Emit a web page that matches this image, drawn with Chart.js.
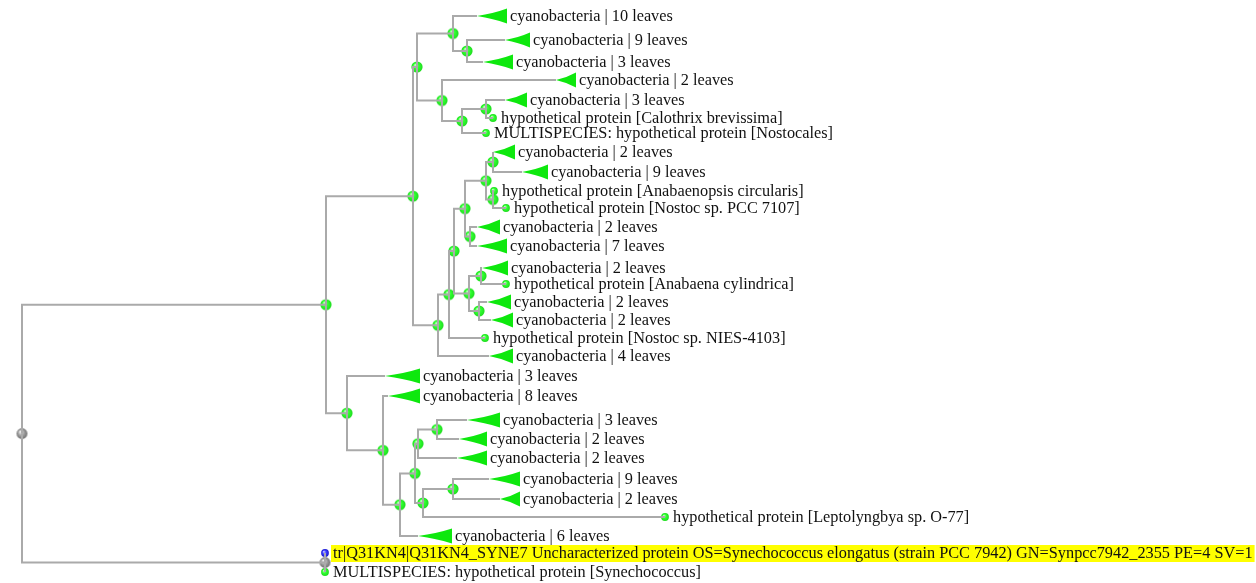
<!DOCTYPE html>
<html lang="en">
<head>
<meta charset="UTF-8">
<title>Cyanobacteria tree</title>
<script src="https://cdn.jsdelivr.net/npm/chart.js"></script>
<style>
  html, body { margin: 0; padding: 0; background: #ffffff; }
  canvas { display: block; }
</style>
</head>
<body>
<canvas id="tree" width="1256" height="583"></canvas>
<script>
// internal nodes: horizontal position and parent (-1 = root)
const nodeX      = [22, 326, 325, 413, 347, 417, 438, 453, 467, 442, 462, 486, 449, 454, 465, 486, 493, 493, 470, 469, 481, 479, 383, 400, 415, 418, 437, 423, 453];
const nodeParent = [-1, 0, 0, 1, 1, 3, 3, 5, 7, 5, 9, 10, 6, 12, 13, 14, 15, 15, 14, 13, 19, 19, 4, 22, 23, 24, 25, 24, 27];

// leaves, top to bottom
const leafLabels = [
  'cyanobacteria | 10 leaves',
  'cyanobacteria | 9 leaves',
  'cyanobacteria | 3 leaves',
  'cyanobacteria | 2 leaves',
  'cyanobacteria | 3 leaves',
  'hypothetical protein [Calothrix brevissima]',
  'MULTISPECIES: hypothetical protein [Nostocales]',
  'cyanobacteria | 2 leaves',
  'cyanobacteria | 9 leaves',
  'hypothetical protein [Anabaenopsis circularis]',
  'hypothetical protein [Nostoc sp. PCC 7107]',
  'cyanobacteria | 2 leaves',
  'cyanobacteria | 7 leaves',
  'cyanobacteria | 2 leaves',
  'hypothetical protein [Anabaena cylindrica]',
  'cyanobacteria | 2 leaves',
  'cyanobacteria | 2 leaves',
  'hypothetical protein [Nostoc sp. NIES-4103]',
  'cyanobacteria | 4 leaves',
  'cyanobacteria | 3 leaves',
  'cyanobacteria | 8 leaves',
  'cyanobacteria | 3 leaves',
  'cyanobacteria | 2 leaves',
  'cyanobacteria | 2 leaves',
  'cyanobacteria | 9 leaves',
  'cyanobacteria | 2 leaves',
  'hypothetical protein [Leptolyngbya sp. O-77]',
  'cyanobacteria | 6 leaves',
  'tr|Q31KN4|Q31KN4_SYNE7 Uncharacterized protein OS=Synechococcus elongatus (strain PCC 7942) GN=Synpcc7942_2355 PE=4 SV=1',
  'MULTISPECIES: hypothetical protein [Synechococcus]'
];
const leafY      = [16, 40, 62, 80, 100, 118, 133, 152, 172, 191, 208, 227, 246, 268, 284, 302, 320, 338, 356, 376, 396, 420, 439, 458, 479, 499, 517, 536, 553, 572];
const leafX      = [477, 505, 483, 556, 505, 493, 486, 493, 522, 494, 506, 477, 477, 482, 506, 487, 491, 485, 489, 385, 388, 467, 459, 457, 489, 500, 665, 418, 325, 325];
const leafParent = [7, 8, 8, 9, 11, 11, 10, 16, 16, 17, 17, 18, 18, 20, 20, 21, 21, 12, 6, 4, 22, 26, 26, 25, 28, 28, 27, 23, 2, 2];
// right edge of a collapsed clade wedge (null = single sequence)
const cladeTipX  = [507, 530, 513, 576, 527, null, null, 515, 548, null, null, 500, 507, 508, null, 511, 513, null, 513, 420, 420, 500, 487, 487, 520, 520, null, 452, null, null];
const queryLeaf  = 28;

const LINE = '#aaaaaa';
const WEDGE = '#0ee80e';
const FONT = '16.3px "Liberation Serif", "DejaVu Serif", serif';

// node y = middle of its children
const children = nodeX.map(() => []);
nodeParent.forEach((p, i) => { if (p >= 0) children[p].push({ node: i }); });
leafParent.forEach((p, i) => children[p].push({ leaf: i }));
const nodeY = [];
function yOf(c) { return c.leaf !== undefined ? leafY[c.leaf] : layoutY(c.node); }
function layoutY(n) {
  if (nodeY[n] === undefined) {
    const ys = children[n].map(yOf);
    nodeY[n] = (Math.min(...ys) + Math.max(...ys)) / 2;
  }
  return nodeY[n];
}
layoutY(0);

function sphere(r, light, mid, dark) {
  const c = document.createElement('canvas');
  const s = Math.ceil(r * 2 + 2);
  c.width = s; c.height = s;
  const g = c.getContext('2d');
  const grad = g.createRadialGradient(s / 2 - r * 0.3, s / 2 - r * 0.35, r * 0.1, s / 2, s / 2, r);
  grad.addColorStop(0, light);
  grad.addColorStop(0.45, mid);
  grad.addColorStop(1, dark);
  g.fillStyle = grad;
  g.beginPath();
  g.arc(s / 2, s / 2, r, 0, Math.PI * 2);
  g.fill();
  return c;
}
const greenNode = sphere(5.6, '#b4ffb4', '#30ff30', '#1fdc1f');
const greenLeaf = sphere(3.9, '#b4ffb4', '#30ff30', '#1fdc1f');
const grayNode  = sphere(5.4, '#eeeeee', '#a6a6a6', '#707070');
const blueLeaf  = sphere(3.9, '#b8b8ff', '#3a3aff', '#1c1cd0');

// elbow branches: parent x down/up to child y, then across
const branchSets = [];
function addBranch(p, cx, cy) {
  branchSets.push({
    type: 'line',
    data: [{ x: nodeX[p], y: nodeY[p] }, { x: nodeX[p], y: cy }, { x: cx, y: cy }],
    borderColor: LINE,
    borderWidth: 2,
    pointRadius: 0,
    borderJoinStyle: 'miter',
    tension: 0,
    clip: false
  });
}
nodeParent.forEach((p, i) => { if (p >= 0) addBranch(p, nodeX[i], nodeY[i]); });
leafParent.forEach((p, i) => addBranch(p, leafX[i], leafY[i]));

const dots = [];
const dotStyles = [];
nodeX.forEach((x, i) => {
  dots.push({ x, y: nodeY[i] });
  dotStyles.push(i === 0 || i === 2 ? grayNode : greenNode);
});
leafX.forEach((x, i) => {
  if (cladeTipX[i] !== null) return;
  dots.push({ x, y: leafY[i] });
  dotStyles.push(i === queryLeaf ? blueLeaf : greenLeaf);
});

// wedges for collapsed clades, then the leaf labels
const treeLabels = {
  id: 'treeLabels',
  afterDatasetsDraw(chart) {
    const ctx = chart.ctx;
    const xs = chart.scales.x, ys = chart.scales.y;
    ctx.save();
    leafLabels.forEach((label, i) => {
      const y = ys.getPixelForValue(leafY[i]);
      const ax = xs.getPixelForValue(leafX[i]);
      let tx;
      if (cladeTipX[i] !== null) {
        const bx = xs.getPixelForValue(cladeTipX[i]);
        const mx = ax + (bx - ax) * 0.55;
        ctx.fillStyle = WEDGE;
        ctx.beginPath();
        ctx.moveTo(ax, y);
        ctx.quadraticCurveTo(mx, y - 2.5, bx, y - 7.5);
        ctx.lineTo(bx, y + 7.5);
        ctx.quadraticCurveTo(mx, y + 2.5, ax, y);
        ctx.closePath();
        ctx.fill();
        tx = bx + 3;
      } else {
        tx = ax + 8;
      }
      ctx.font = FONT;
      if (i === queryLeaf) {
        const w = ctx.measureText(label).width;
        ctx.fillStyle = '#ffff00';
        ctx.fillRect(tx - 2, y - 8, w + 4, 17);
      }
      ctx.fillStyle = '#111111';
      ctx.textBaseline = 'middle';
      ctx.textAlign = 'left';
      ctx.fillText(label, tx, y + 1);
    });
    ctx.restore();
  }
};

new Chart(document.getElementById('tree'), {
  type: 'scatter',
  data: {
    datasets: [
      ...branchSets,
      {
        type: 'scatter',
        data: dots,
        pointStyle: dotStyles,
        pointRadius: 5,
        clip: false
      }
    ]
  },
  options: {
    responsive: false,
    animation: false,
    events: [],
    layout: { padding: 0, autoPadding: false },
    plugins: { legend: { display: false }, tooltip: { enabled: false } },
    scales: {
      x: { type: 'linear', min: 0, max: 1256, display: false },
      y: { type: 'linear', min: 0, max: 583, reverse: true, display: false }
    }
  },
  plugins: [treeLabels]
});
</script>
</body>
</html>
